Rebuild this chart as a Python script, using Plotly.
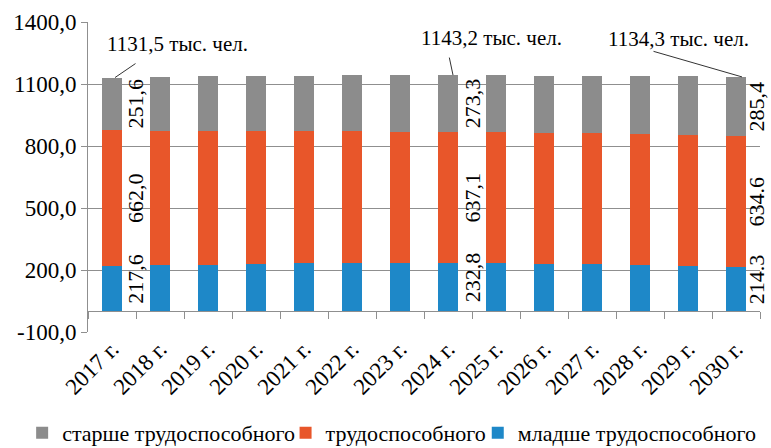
import plotly.graph_objects as go

# Population by age group, thousand people
years = ["2017 г.", "2018 г.", "2019 г.", "2020 г.", "2021 г.", "2022 г.", "2023 г.",
         "2024 г.", "2025 г.", "2026 г.", "2027 г.", "2028 г.", "2029 г.", "2030 г."]
younger = [217.6, 222.0, 226.0, 229.5, 231.5, 232.5, 233.0,
           232.8, 232.0, 229.0, 227.0, 223.0, 219.0, 214.3]
working = [662.0, 653.0, 649.0, 645.5, 641.5, 638.5, 637.0,
           637.1, 635.8, 634.9, 635.5, 635.2, 634.8, 634.6]
older = [251.6, 260.0, 264.0, 265.0, 268.0, 271.0, 272.0,
         273.3, 274.7, 277.1, 277.5, 280.8, 283.2, 285.4]

# Labelled years and their printed values
label_years = ["2017 г.", "2024 г.", "2030 г."]
younger_labels = ["217,6", "232,8", "214.3"]
working_labels = ["662,0", "637,1", "634.6"]
older_labels = ["251,6", "273,3", "285,4"]
total_labels = ["1131,5 тыс. чел.", "1143,2 тыс. чел.", "1134,3 тыс. чел."]

# Y axis ticks
y_tickvals = [-100, 200, 500, 800, 1100, 1400]
y_ticktext = ["-100,0", "200,0", "500,0", "800,0", "1100,0", "1400,0"]

series_names = ["младше трудоспособного", "трудоспособного", "старше трудоспособного"]
colors = ["#1E88C8", "#E8562A", "#8C8C8C"]
legend_ids = ["legend3", "legend2", "legend"]
GRID = "#8F8F8F"
FONT = "Liberation Serif"

fig = go.Figure()
for name, vals, col, lg in zip(series_names, [younger, working, older], colors, legend_ids):
    fig.add_trace(go.Bar(x=years, y=vals, name=name, marker=dict(color=col, line_width=0),
                         width=0.4, legend=lg))

annotations = []
# segment value labels, rotated, to the right of the bar
label_xshift = [24, 24, 20]
for i, yr in enumerate(label_years):
    k = years.index(yr)
    b, w, o = younger[k], working[k], older[k]
    mids = [b / 2, b + w / 2, b + w + o / 2]
    texts = [younger_labels[i], working_labels[i], older_labels[i]]
    shifts = [10, 0, 0]
    for ym, t, ys in zip(mids, texts, shifts):
        annotations.append(dict(x=yr, y=ym, text=t, textangle=-90, showarrow=False,
                                xshift=label_xshift[i], yshift=ys,
                                font=dict(family=FONT, size=22, color="black")))

# totals with leader lines
text_offsets = [(65, 34), (43, 37), (-58, 38)]
leaders = [(3, 22, -15), (5, -4, -19), (6, -90, -26)]
for i, yr in enumerate(label_years):
    k = years.index(yr)
    total = younger[k] + working[k] + older[k]
    dx, dy = text_offsets[i]
    annotations.append(dict(x=yr, y=total, text=total_labels[i], showarrow=False,
                            xshift=dx, yshift=dy, font=dict(family=FONT, size=21, color="black")))
    hx, ax, ay = leaders[i]
    annotations.append(dict(x=yr, y=total, text="", showarrow=True, arrowhead=0,
                            arrowwidth=1, arrowcolor="#333333", ax=ax, ay=ay, xshift=hx))

legend_font = dict(family=FONT, size=22, color="black")
legend_common = dict(orientation="h", xanchor="left", y=-0.326, yanchor="middle",
                     font=legend_font, bgcolor="rgba(0,0,0,0)", itemwidth=30)

fig.update_layout(
    width=771, height=448,
    margin=dict(l=88, r=11, t=22, b=116, autoexpand=False),
    paper_bgcolor="white", plot_bgcolor="white",
    barmode="stack",
    font=dict(family=FONT, size=21, color="black"),
    showlegend=True,
    legend=dict(x=-0.098, **legend_common),
    legend2=dict(x=0.294, **legend_common),
    legend3=dict(x=0.580, **legend_common),
    annotations=annotations,
    xaxis=dict(
        type="category", range=[-0.5, len(years) - 0.5],
        anchor="free", position=100 / 1500,
        showline=True, linecolor=GRID, linewidth=1,
        ticks="outside", ticklen=7, tickcolor=GRID, tickson="boundaries",
        tickangle=-45, ticklabelstandoff=14,
        tickfont=dict(family=FONT, size=23, color="black"),
        showgrid=False,
    ),
    yaxis=dict(
        range=[-100, 1400], tickvals=y_tickvals, ticktext=y_ticktext,
        showline=True, linecolor=GRID, linewidth=1,
        ticks="outside", ticklen=6, tickcolor=GRID,
        showgrid=True, gridcolor=GRID, gridwidth=1, zeroline=False,
        tickfont=dict(family=FONT, size=23, color="black"),
    ),
)

fig.write_html("out.html")
